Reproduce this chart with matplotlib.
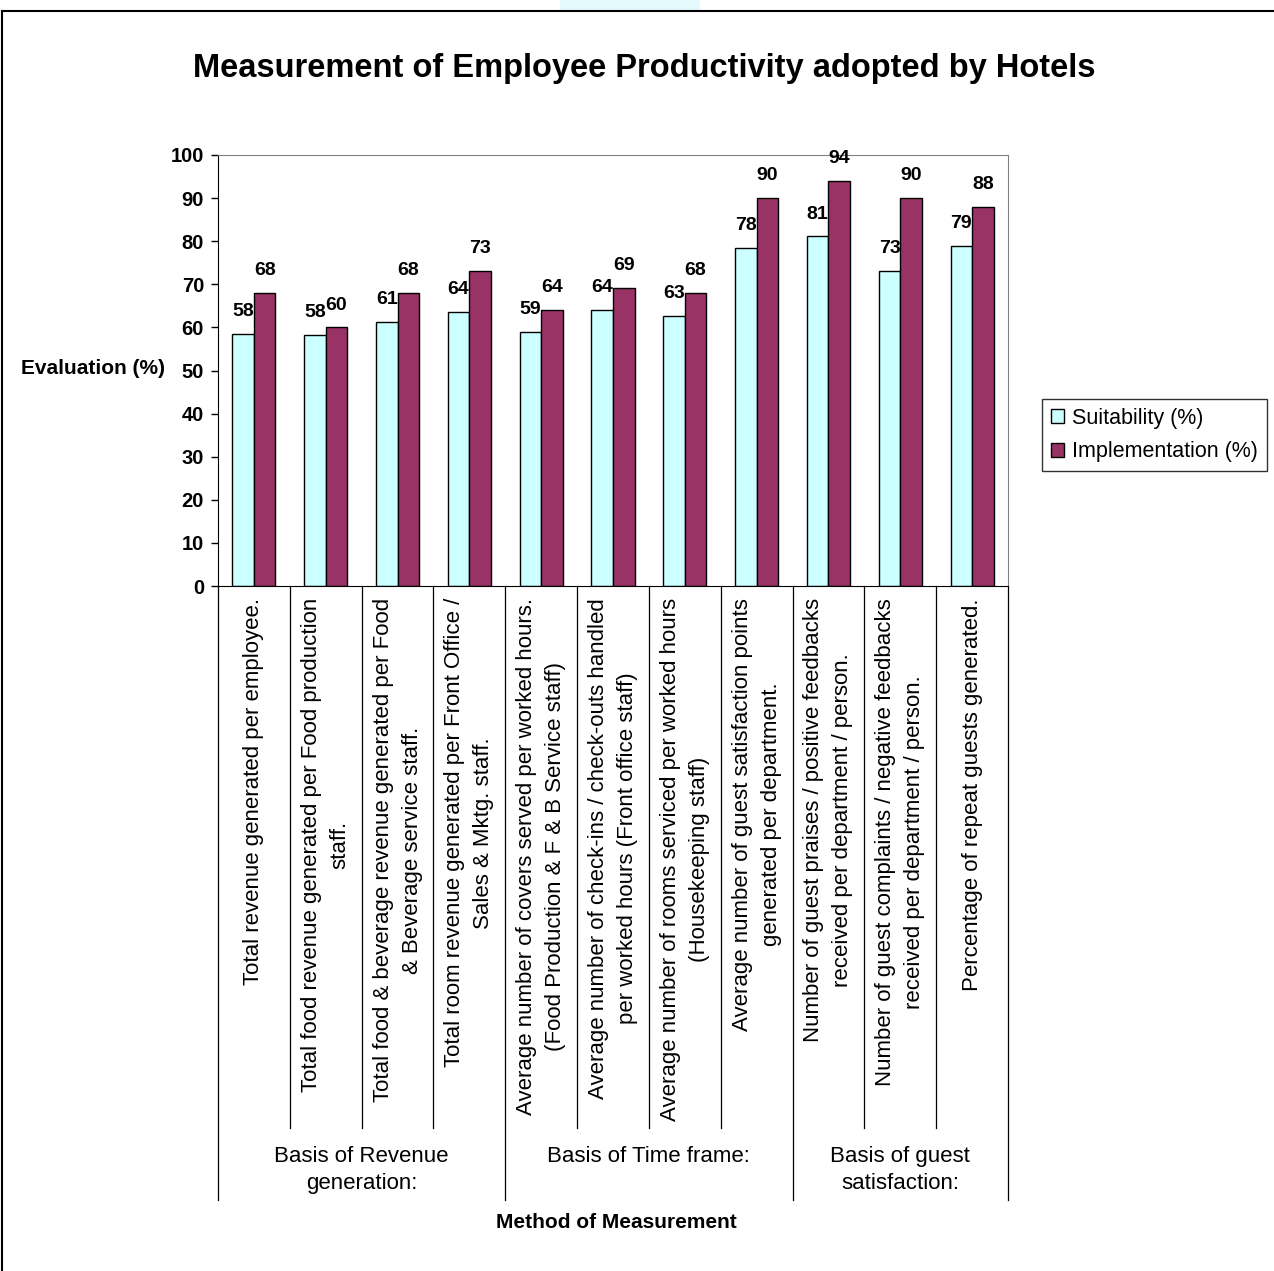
import matplotlib
matplotlib.use("Agg")
import matplotlib.pyplot as plt
import matplotlib.transforms as mtransforms
from matplotlib.lines import Line2D
from matplotlib.patches import Rectangle
import numpy as np

# -------------------------- data -------------------------------------------
categories = [
    "Total revenue generated per employee.",
    "Total food revenue generated per Food production\nstaff.",
    "Total food & beverage revenue generated per Food\n& Beverage service staff.",
    "Total room revenue generated per Front Office /\nSales & Mktg. staff.",
    "Average number of covers served per worked hours.\n(Food Production & F & B Service staff)",
    "Average number of check-ins / check-outs handled\nper worked hours (Front office staff)",
    "Average number of rooms serviced per worked hours\n(Housekeeping staff)",
    "Average number of guest satisfaction points\ngenerated per department.",
    "Number of guest praises / positive feedbacks\nreceived per department / person.",
    "Number of guest complaints / negative feedbacks\nreceived per department / person.",
    "Percentage of repeat guests generated.",
]
groups = ["Basis of Revenue\ngeneration:", "Basis of Time frame:", "Basis of guest\nsatisfaction:"]
group_sizes = [4, 4, 3]

suitability = [58.4, 58.2, 61.2, 63.6, 58.9, 64.0, 62.6, 78.4, 81.1, 73.1, 79.0]
implementation = [68.0, 60.0, 68.0, 73.1, 64.0, 69.1, 68.0, 90.0, 94.0, 90.0, 88.0]

series_names = ["Suitability (%)", "Implementation (%)"]

# -------------------------- figure -----------------------------------------
plt.rcParams['font.family'] = ['Liberation Sans', 'DejaVu Sans']

W, H = 1274, 1271
fig = plt.figure(figsize=(W / 100, H / 100), dpi=100)

def fx(px):
    return px / W

def fy(py):
    return 1 - py / H

ax = fig.add_axes([fx(218), fy(586), fx(1008) - fx(218), fy(155) - fy(586)])

x = np.arange(len(categories))
bw = 0.3
b1 = ax.bar(x - bw / 2, suitability, bw, color='#CCFFFF', edgecolor='black', linewidth=1,
            label=series_names[0])
b2 = ax.bar(x + bw / 2, implementation, bw, color='#993366', edgecolor='black', linewidth=1,
            label=series_names[1])

for bars in (b1, b2):
    for r in bars:
        ax.annotate(f"{r.get_height():.0f}", (r.get_x() + r.get_width() / 2, r.get_height()),
                    xytext=(0, 10), textcoords='offset points', ha='center', va='bottom',
                    fontsize=14, fontweight='bold')

ax.set_xlim(-0.5, len(categories) - 0.5)
ax.set_ylim(0, 100)
ax.set_yticks(range(0, 101, 10))
ax.tick_params(axis='y', direction='out', length=5, width=1, pad=5, labelsize=14.5)
for lbl in ax.get_yticklabels():
    lbl.set_fontweight('bold')
ax.set_xticks([])
ax.spines['top'].set_color('#808080')
ax.spines['right'].set_color('#808080')

# -------------------------- multi-level category axis ----------------------
trans = mtransforms.blended_transform_factory(ax.transData, ax.transAxes)
short_bottom = (586 - 1128) / 431
long_bottom = (586 - 1200) / 431

for i, lab in enumerate(categories):
    ax.text(i, -0.028, lab, transform=trans, rotation=90, ha='center', va='top',
            multialignment='center', fontsize=16, linespacing=1.5)

bounds = np.cumsum([0] + group_sizes) - 0.5
for b in np.arange(-0.5, len(categories)):
    bottom = long_bottom if np.isclose(bounds, b).any() else short_bottom
    ax.add_line(Line2D([b, b], [0, bottom], transform=trans, color='black', lw=0.9,
                       clip_on=False))

for g, lab in enumerate(groups):
    mid = (bounds[g] + bounds[g + 1]) / 2
    ax.text(mid, (586 - 1146) / 431, lab, transform=trans, ha='center', va='top',
            multialignment='center', fontsize=16, linespacing=1.4)

# -------------------------- titles / legend --------------------------------
fig.text(fx(644), fy(68), "Measurement of Employee Productivity adopted by Hotels",
         ha='center', va='center', fontsize=23.5, fontweight='bold')
fig.text(fx(93), fy(369), "Evaluation (%)", ha='center', va='center',
         fontsize=15, fontweight='bold')
fig.text(fx(616), fy(1222), "Method of Measurement", ha='center', va='center',
         fontsize=15, fontweight='bold')

leg = fig.legend(handles=[b1, b2], loc='center left', bbox_to_anchor=(fx(1042), fy(435)),
                 fontsize=15.5, frameon=True, fancybox=False, edgecolor='black',
                 handlelength=0.6, handleheight=0.6, handletextpad=0.4,
                 borderpad=0.4, labelspacing=0.6, borderaxespad=0)
leg.get_frame().set_linewidth(1)

# -------------------------- page border ------------------------------------
fig.add_artist(Rectangle((fx(560), fy(10)), fx(140), fy(0) - fy(10), transform=fig.transFigure,
                         facecolor='#e3f9fc', edgecolor='none'))
fig.add_artist(Line2D([fx(2), 1], [fy(11), fy(11)], transform=fig.transFigure,
                      color='black', lw=1.5))
fig.add_artist(Line2D([fx(2), fx(2)], [fy(11), 0], transform=fig.transFigure,
                      color='black', lw=1.5))

fig.savefig("out.png", dpi=100)
